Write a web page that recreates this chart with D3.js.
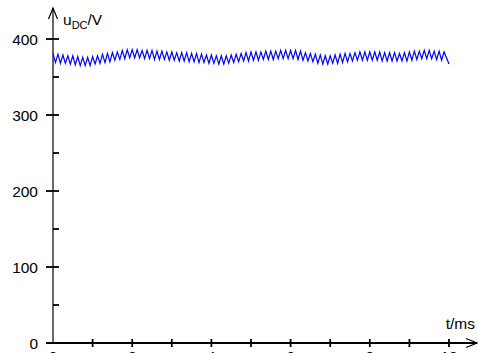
<!DOCTYPE html>
<html>
<head>
<meta charset="utf-8">
<script src="https://cdn.jsdelivr.net/npm/d3@7"></script>
<style>
  html, body { margin: 0; padding: 0; background: #fff; }
  svg { display: block; font-family: "Liberation Sans", Arial, sans-serif; }
</style>
</head>
<body>
<div id="chart"></div>
<script>
// u_DC ripple: crest and trough values (V)
const tStep = 0.125; // ms between crests
const crests = [381,380,379,378,378,377,376,376,377,378,
                380,381,382,383,385,386,386,386,385,385,
                385,384,384,383,383,382,382,382,381,381,
                380,379,379,378,378,378,379,380,381,382,
                383,383,383,384,384,384,385,385,385,385,
                384,382,381,380,379,378,378,379,380,381,
                381,382,383,383,383,383,383,382,382,382,
                381,382,383,384,384,385,385,384,384,383];
const troughs = [369,368,368,367,366,365,365,365,367,368,
                 369,370,372,373,374,375,375,375,374,374,
                 373,373,373,372,372,371,371,370,370,369,
                 369,368,368,367,367,368,369,370,371,371,
                 372,372,373,373,373,374,374,374,374,373,
                 372,371,370,368,367,367,368,368,369,370,
                 371,372,372,372,372,372,371,371,371,371,
                 371,371,372,373,374,374,374,373,372,367];
const yTicks = [0, 100, 200, 300, 400];
const yMinor = [50, 150, 250, 350];
const xTicks = [0, 1, 2, 3, 4, 5, 6, 7, 8, 9, 10];
const xLabels = [0, 2, 4, 6, 8, 10];

const width = 478, height = 353;

const svg = d3.select('#chart').append('svg')
  .attr('width', width)
  .attr('height', height);

const x = d3.scaleLinear().domain([0, 10]).range([53, 449]);
const y = d3.scaleLinear().domain([0, 400]).range([343, 39]);

// crest at start of each step, trough halfway; the last trough lands on t = 10
const pts = [];
crests.forEach((c, i) => {
  pts.push([i * tStep, c]);
  pts.push([i * tStep + (i === crests.length - 1 ? tStep : tStep / 2), troughs[i]]);
});

// axes
svg.append('line')
  .attr('x1', 53).attr('x2', 53)
  .attr('y1', y(0)).attr('y2', 8)
  .attr('stroke', '#000').attr('stroke-width', 1.2);
svg.append('path')
  .attr('d', 'M48.5,19L53,8L57.5,19')
  .attr('fill', 'none').attr('stroke', '#000').attr('stroke-width', 1.2);

svg.append('line')
  .attr('x1', 46).attr('x2', 477)
  .attr('y1', y(0)).attr('y2', y(0))
  .attr('stroke', '#000').attr('stroke-width', 2);
svg.append('path')
  .attr('d', 'M466,338.5L477,343L466,347.5')
  .attr('fill', 'none').attr('stroke', '#000').attr('stroke-width', 1.2);

svg.selectAll('.ymaj').data(yTicks.filter(d => d > 0)).enter().append('line')
  .attr('x1', 46).attr('x2', 59)
  .attr('y1', d => y(d)).attr('y2', d => y(d))
  .attr('stroke', '#000').attr('stroke-width', 1.8);
svg.selectAll('.ymin').data(yMinor).enter().append('line')
  .attr('x1', 53).attr('x2', 59)
  .attr('y1', d => y(d)).attr('y2', d => y(d))
  .attr('stroke', '#000').attr('stroke-width', 1.8);

svg.selectAll('.ylab').data(yTicks).enter().append('text')
  .attr('x', 38)
  .attr('y', d => y(d) + 5.5)
  .attr('text-anchor', 'end')
  .attr('font-size', 15.5)
  .text(d => d);

svg.selectAll('.xt').data(xTicks.filter(d => d > 0)).enter().append('line')
  .attr('x1', d => x(d)).attr('x2', d => x(d))
  .attr('y1', 339).attr('y2', 347)
  .attr('stroke', '#000').attr('stroke-width', 1.8);

svg.selectAll('.xlab').data(xLabels).enter().append('text')
  .attr('x', d => x(d))
  .attr('y', 362)
  .attr('text-anchor', 'middle')
  .attr('font-size', 15.5)
  .text(d => d);

// axis titles
const uy = svg.append('text')
  .attr('x', 63).attr('y', 24.5)
  .attr('font-size', 15.5);
uy.append('tspan').text('u');
uy.append('tspan').attr('font-size', 11).attr('dy', 4).text('DC');
uy.append('tspan').attr('dy', -4).text('/V');

svg.append('text')
  .attr('x', 475).attr('y', 329)
  .attr('text-anchor', 'end')
  .attr('font-size', 15.5)
  .text('t/ms');

// signal
const line = d3.line()
  .x(d => x(d[0]))
  .y(d => y(d[1]));

svg.append('path')
  .datum(pts)
  .attr('d', line)
  .attr('fill', 'none')
  .attr('stroke', '#0000ff')
  .attr('stroke-width', 1.2);
</script>
</body>
</html>
